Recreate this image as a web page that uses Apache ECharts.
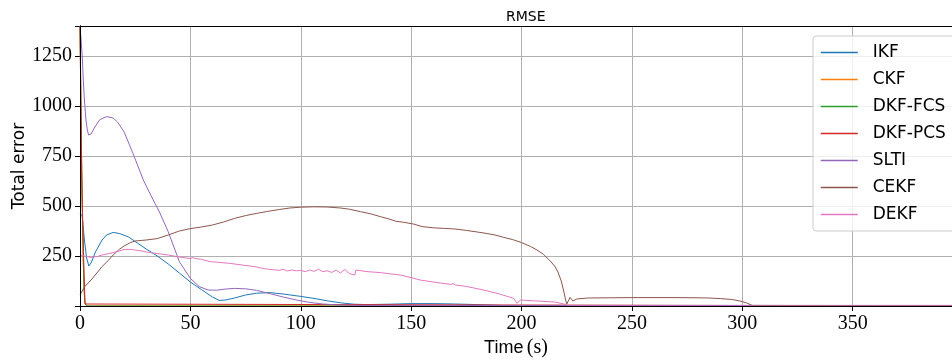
<!DOCTYPE html>
<html>
<head>
<meta charset="utf-8">
<script src="https://cdn.jsdelivr.net/npm/echarts@6/dist/echarts.min.js"></script>
<style>
  html, body { margin: 0; padding: 0; background: #fff; }
  #container { width: 952px; height: 361px; }
</style>
</head>
<body>
<div id="container"></div>
<script>
// 数据
var ikfT  = [0, 0.5, 1, 2, 3, 4, 5, 7, 10, 12, 15, 18, 22, 26, 30, 35, 40, 45, 50, 55, 60, 63, 66, 70, 75, 80, 86, 92, 100, 106, 112, 118, 124, 130, 140, 150, 160, 170, 180, 190, 200, 395];
var ikfV  = [465, 470, 450, 330, 240, 200, 215, 270, 330, 355, 368, 362, 345, 315, 285, 250, 210, 165, 120, 82, 45, 28, 30, 40, 55, 64, 67, 60, 48, 38, 26, 16, 9, 7, 9, 12, 12, 10, 7, 3, 0, 0];

var ckfT  = [0, 0.3, 0.6, 0.9, 1.2, 1.5, 1.8, 2.2, 3, 395];
var ckfV  = [1400, 1150, 850, 600, 400, 230, 100, 20, 0, 0];

var fcsT  = [0, 0.3, 0.6, 0.9, 1.2, 1.5, 1.8, 2.2, 3, 395];
var fcsV  = [1400, 1120, 820, 580, 380, 210, 90, 15, 0, 0];

var pcsT  = [0, 0.4, 0.8, 1.2, 1.6, 2.0, 2.3, 3, 395];
var pcsV  = [1400, 1000, 640, 440, 260, 110, 10, 0, 0];

var sltiT = [0, 0.5, 1, 1.5, 2, 2.7, 3.3, 3.9, 5, 7, 9, 12, 15, 17, 20, 24, 28.7, 32, 36, 40, 45, 50, 54, 58, 62, 66, 70, 75, 80, 86, 92, 98, 104, 110, 116, 125, 395];
var sltiV = [1400, 1330, 1250, 1130, 1030, 930, 880, 855, 860, 900, 932, 947, 940, 920, 870, 763, 630, 555, 470, 370, 222, 138, 97, 80, 79, 85, 88, 86, 78, 62, 45, 30, 18, 10, 6, 3, 3];

var cekfT = [0, 2, 5, 8, 10, 13, 15, 18, 20, 23, 25, 28, 30, 35, 40, 45, 50, 55, 60, 65, 70, 75, 80, 85, 90, 95, 100, 106, 112, 118, 122, 127, 132, 136, 140, 143, 147, 151, 155, 160, 165, 170, 175, 180, 184, 188, 192, 196, 200, 204, 207, 210, 213, 215, 216.5, 218, 219, 220, 220.5, 222, 223.3, 225, 230, 240, 250, 260, 270, 280, 285, 290, 295, 299, 302, 304.5, 305, 395];
var cekfV = [55, 95, 130, 170, 197, 230, 255, 285, 300, 318, 325, 328, 330, 337, 355, 375, 387, 395, 405, 420, 438, 452, 463, 473, 482, 490, 494, 496, 495, 490, 484, 472, 460, 447, 435, 424, 418, 410, 397, 391, 388, 385, 378, 370, 363, 355, 343, 332, 317, 298, 280, 258, 225, 200, 170, 125, 80, 30, 10, 43, 25, 35, 40, 41, 42, 42, 42, 41, 40, 37, 33, 25, 15, 3, 0, 0];

var dekfT = [0, 2, 5, 8, 10, 13, 15, 18, 20, 23, 25, 28, 30, 35, 40, 45, 50, 51, 52, 55, 59, 63, 68, 72, 77, 80, 82, 84, 86, 88, 90, 92, 94, 96, 98, 100, 102, 104, 106, 108, 110, 112, 114, 116, 118, 120, 122, 124.5, 125, 130, 136, 145, 150, 154, 160, 165, 168, 169, 170, 175, 184, 190, 196.5, 198, 199.5, 207, 215, 220, 221, 395];
var dekfV = [255, 250, 243, 248, 255, 262, 267, 276, 283, 283, 280, 275, 270, 262, 255, 245, 237, 242, 238, 233, 222, 218, 213, 207, 200, 195, 190, 186, 183, 181, 178, 183, 175, 180, 176, 178, 172, 180, 173, 184, 172, 176, 168, 180, 165, 183, 162, 155, 180, 172, 167, 155, 142, 130, 120, 112, 108, 112, 105, 98, 77, 60, 38, 13, 30, 25, 20, 8, 0, 0];

var names  = ['IKF', 'CKF', 'DKF-FCS', 'DKF-PCS', 'SLTI', 'CEKF', 'DEKF'];
var colors = ['#1f77b4', '#ff7f0e', '#2ca02c', '#d62728', '#9467bd', '#8c564b', '#e377c2'];
var xTicks = [0, 50, 100, 150, 200, 250, 300, 350];
var yTicks = [250, 500, 750, 1000, 1250];

function pairs(t, v) {
    return t.map(function (x, i) { return [x, v[i]]; });
}
var allData = [pairs(ikfT, ikfV), pairs(ckfT, ckfV), pairs(fcsT, fcsV), pairs(pcsT, pcsV),
               pairs(sltiT, sltiV), pairs(cekfT, cekfV), pairs(dekfT, dekfV)];

var myChart = echarts.init(document.getElementById('container'));
var serif = 'Liberation Serif';

// 只画轴线的辅助轴（盖在曲线上面，像 matplotlib 的边框）
function spineX(pos) {
    return {
        type: 'value', position: pos, min: 0, max: 395, z: 5,
        axisLine: { show: true, onZero: false, lineStyle: { color: '#000', width: 1 } },
        axisTick: { show: false }, axisLabel: { show: false }, splitLine: { show: false }
    };
}

var option = {
    animation: false,
    color: colors,
    title: {
        text: 'RMSE',
        left: 501,
        top: 5,
        textStyle: { fontFamily: 'DejaVu Sans', fontSize: 14, fontWeight: 'normal', color: '#000' }
    },
    legend: {
        data: names,
        orient: 'vertical',
        left: 813,
        top: 36,
        padding: [7, 30, 7, 7],
        itemWidth: 37,
        itemHeight: 14,
        itemGap: 8,
        itemStyle: { opacity: 0 },
        lineStyle: { width: 1.5 },
        backgroundColor: 'rgba(255,255,255,0.8)',
        borderColor: '#cccccc',
        borderWidth: 1,
        borderRadius: 3,
        textStyle: { fontFamily: 'DejaVu Sans', fontSize: 17, lineHeight: 19, color: '#000', padding: [0, 0, 0, 10] }
    },
    grid: { left: 80, right: 0, top: 26, bottom: 55, outerBoundsMode: 'none', containLabel: false },
    xAxis: [{
        type: 'value',
        min: 0,
        max: 395,
        interval: 50,
        name: '{a|Time} {b|(s)}',
        nameLocation: 'middle',
        nameGap: 32,
        nameMoveOverlap: false,
        nameTextStyle: {
            rich: {
                a: { fontFamily: 'Liberation Sans', fontSize: 18, color: '#000' },
                b: { fontFamily: serif, fontSize: 20, color: '#000' }
            }
        },
        axisLine: { show: true, lineStyle: { color: '#000', width: 1 } },
        axisTick: { show: true, length: 5, lineStyle: { color: '#000' } },
        axisLabel: {
            fontFamily: serif, fontSize: 20, color: '#000', margin: 8,
            formatter: function (v) { return xTicks.indexOf(v) >= 0 ? String(v) : ''; }
        },
        splitLine: { show: true, lineStyle: { color: '#b0b0b0', width: 1 } }
    }, spineX('top'), spineX('bottom')],
    yAxis: [{
        type: 'value',
        min: 0,
        max: 1400,
        interval: 250,
        name: 'Total error',
        nameLocation: 'middle',
        nameGap: 52,
        nameMoveOverlap: false,
        nameTextStyle: { fontFamily: 'DejaVu Sans', fontSize: 17, color: '#000' },
        axisLine: { show: true, lineStyle: { color: '#000', width: 1 } },
        axisTick: { show: true, length: 5, lineStyle: { color: '#000' } },
        axisLabel: {
            fontFamily: serif, fontSize: 20, color: '#000', margin: 8,
            formatter: function (v) { return yTicks.indexOf(v) >= 0 ? String(v) : ''; }
        },
        splitLine: { show: true, lineStyle: { color: '#b0b0b0', width: 1 } }
    }, {
        type: 'value', position: 'left', min: 0, max: 1400, z: 5,
        axisLine: { show: true, onZero: false, lineStyle: { color: '#000', width: 1 } },
        axisTick: { show: false }, axisLabel: { show: false }, splitLine: { show: false }
    }],
    series: names.map(function (n, i) {
        return {
            name: n,
            type: 'line',
            symbol: 'none',
            smooth: false,
            lineStyle: { width: 1, color: colors[i] },
            itemStyle: { color: colors[i] },
            data: allData[i]
        };
    })
};
myChart.setOption(option);
</script>
</body>
</html>
